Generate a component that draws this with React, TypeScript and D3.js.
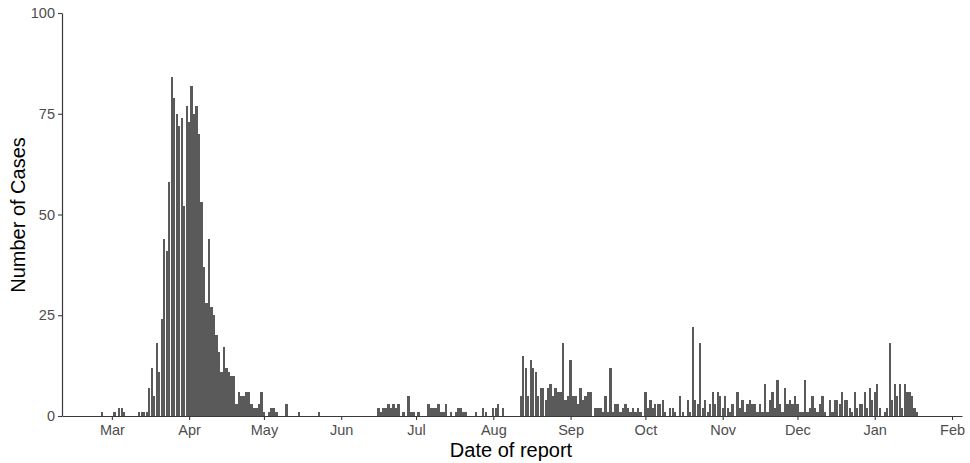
import React, { useEffect, useRef } from "react";
import * as d3 from "d3";

// daily reported cases, one entry per day of each month
const feb2020 = [
  0, 0, 0, 0, 0, 0, 0, 0, 0, 0, 0, 0, 0, 0, 0, 0, 0, 0, 0, 0, 0, 0, 0, 0, 0, 1,
  0, 0, 0,
];
const mar2020 = [
  0, 1, 0, 2, 2, 1, 0, 0, 0, 0, 0, 1, 1, 1, 1, 7, 12, 5, 18, 11, 24, 44, 41, 58,
  84, 79, 75, 72, 74, 52, 77,
];
const apr2020 = [
  73, 82, 75, 77, 70, 53, 37, 28, 44, 27, 25, 20, 16, 11, 17, 12, 11, 10, 10, 3,
  6, 5, 5, 6, 6, 3, 2, 2, 3, 6,
];
const may2020 = [
  1, 0, 1, 2, 2, 1, 0, 0, 0, 3, 0, 0, 0, 0, 1, 0, 0, 0, 0, 0, 0, 0, 1, 0, 0, 0,
  0, 0, 0, 0, 0,
];
const jun2020 = [
  0, 0, 0, 0, 0, 0, 0, 0, 0, 0, 0, 0, 0, 0, 0, 2, 1, 2, 2, 3, 2, 3, 2, 3, 0, 1,
  0, 5, 1, 1,
];
const jul2020 = [
  0, 1, 0, 0, 0, 3, 2, 2, 2, 3, 1, 1, 3, 0, 1, 0, 1, 2, 2, 1, 1, 0, 0, 0, 1, 0,
  0, 2, 1, 0, 0,
];
const aug2020 = [
  2, 2, 3, 0, 2, 0, 0, 0, 0, 0, 0, 5, 15, 12, 5, 14, 12, 11, 5, 7, 7, 4, 7, 8, 5,
  7, 6, 6, 18, 4, 5,
];
const sep2020 = [
  14, 5, 5, 3, 7, 4, 5, 6, 6, 0, 2, 2, 2, 1, 5, 1, 12, 1, 3, 3, 1, 2, 3, 2, 1, 2,
  1, 2, 1, 0,
];
const oct2020 = [
  6, 2, 4, 2, 3, 3, 3, 4, 1, 0, 2, 2, 1, 0, 5, 1, 0, 4, 1, 22, 4, 3, 18, 2, 4, 1,
  3, 6, 3, 6, 5,
];
const nov2020 = [
  2, 5, 2, 1, 3, 0, 6, 2, 4, 1, 3, 4, 3, 3, 1, 3, 1, 8, 1, 4, 6, 2, 9, 3, 1, 7,
  3, 4, 3, 5,
];
const dec2020 = [
  3, 1, 1, 9, 1, 2, 5, 2, 1, 3, 5, 1, 0, 4, 1, 4, 4, 3, 6, 4, 4, 2, 1, 6, 2, 3,
  3, 6, 2, 7, 4,
];
const jan2021 = [
  6, 8, 2, 0, 1, 2, 18, 4, 8, 5, 8, 2, 8, 6, 6, 5, 2, 1, 0, 0, 0, 0, 0, 0, 0, 0,
  0, 0, 0, 0, 0,
];

const monthStarts = [
  [2020, 1, feb2020],
  [2020, 2, mar2020],
  [2020, 3, apr2020],
  [2020, 4, may2020],
  [2020, 5, jun2020],
  [2020, 6, jul2020],
  [2020, 7, aug2020],
  [2020, 8, sep2020],
  [2020, 9, oct2020],
  [2020, 10, nov2020],
  [2020, 11, dec2020],
  [2021, 0, jan2021],
] as [number, number, number[]][];

const yTicks = [0, 25, 50, 75, 100];

export default function App() {
  const svgRef = useRef<SVGSVGElement>(null);

  useEffect(() => {
    const w = 970;
    const h = 463;
    const svg = d3.select(svgRef.current);
    svg.selectAll("*").remove();

    const daily: { date: Date; cases: number }[] = [];
    monthStarts.forEach(([yr, mo, vals]) => {
      vals.forEach((v, i) => {
        daily.push({ date: new Date(Date.UTC(yr, mo, i + 1)), cases: v });
      });
    });

    const x = d3
      .scaleUtc()
      .domain([new Date(Date.UTC(2020, 1, 10)), new Date(Date.UTC(2021, 1, 5))])
      .range([62, 962]);
    const y = d3.scaleLinear().domain([0, 100]).range([416, 13]);

    const dayW = x(new Date(Date.UTC(2020, 5, 2))) - x(new Date(Date.UTC(2020, 5, 1)));
    const barW = dayW * 0.92;

    svg
      .append("g")
      .attr("shape-rendering", "crispEdges")
      .selectAll("rect")
      .data(daily.filter((d) => d.cases > 0))
      .join("rect")
      .attr("x", (d) => x(d.date) - barW / 2)
      .attr("y", (d) => y(d.cases))
      .attr("width", barW)
      .attr("height", (d) => y(0) - y(d.cases))
      .attr("fill", "#5a5a5a");

    const xAxis = d3
      .axisBottom(x)
      .ticks(d3.utcMonth.every(1))
      .tickFormat(d3.utcFormat("%b") as any)
      .tickSize(4)
      .tickSizeOuter(0)
      .tickPadding(5);

    const yAxis = d3
      .axisLeft(y)
      .tickValues(yTicks)
      .tickSize(4)
      .tickSizeOuter(0)
      .tickPadding(3);

    const gx = svg.append("g").attr("transform", `translate(0,${y(0)})`).call(xAxis);
    const gy = svg.append("g").attr("transform", `translate(62,0)`).call(yAxis);

    [gx, gy].forEach((g) => {
      g.select(".domain").attr("stroke", "#3a3a3a").attr("stroke-width", 1.2);
      g.selectAll(".tick line").attr("stroke", "#3a3a3a").attr("stroke-width", 1.1);
      g.selectAll(".tick text")
        .attr("fill", "#4d4d4d")
        .attr("font-size", "14.5px")
        .attr("font-family", "Liberation Sans, Arial, sans-serif");
    });

    svg
      .append("text")
      .attr("x", 511)
      .attr("y", 457)
      .attr("text-anchor", "middle")
      .attr("font-size", "20px")
      .attr("font-family", "Liberation Sans, Arial, sans-serif")
      .attr("fill", "#000")
      .text("Date of report");

    svg
      .append("text")
      .attr("transform", `translate(25,215) rotate(-90)`)
      .attr("text-anchor", "middle")
      .attr("font-size", "20px")
      .attr("font-family", "Liberation Sans, Arial, sans-serif")
      .attr("fill", "#000")
      .text("Number of Cases");

    svg.attr("width", w).attr("height", h);
  }, []);

  return (
    <div style={{ position: "absolute", left: 0, top: 0 }}>
      <svg ref={svgRef} style={{ display: "block", background: "#fff" }}></svg>
    </div>
  );
}
